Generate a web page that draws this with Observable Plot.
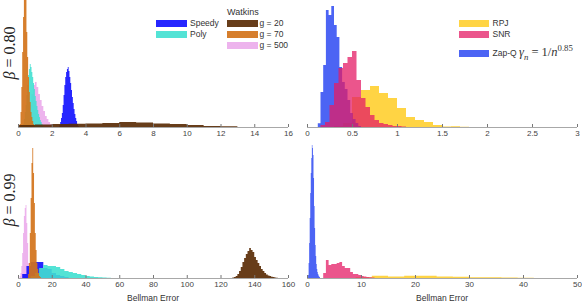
<!DOCTYPE html>
<html><head><meta charset="utf-8">
<script src="https://cdn.jsdelivr.net/npm/d3@7"></script>
<script src="https://cdn.jsdelivr.net/npm/@observablehq/plot@0.6"></script>
<style>
body{margin:0;background:#fff;}
#c{position:relative;width:582px;height:306px;overflow:hidden;font-family:"Liberation Sans",Arial,sans-serif;}
.p{position:absolute;}
.lab{position:absolute;font-size:8.5px;line-height:10px;color:#333;white-space:nowrap;}
.sw{position:absolute;width:31px;height:7px;}
.beta{position:absolute;width:70px;height:18px;line-height:18px;text-align:center;font-family:"Liberation Serif",serif;font-size:16px;transform:rotate(-90deg);white-space:nowrap;color:#222;}
.m{font-family:"Liberation Serif",serif;font-size:12.5px;}
.m sub,.m sup{font-size:0.7em;line-height:0;}
</style></head><body><div id="c"></div>
<script>
// ---------- data: histogram bins (first bin start, bin width, heights) ----------
// beta = 0.80, left panel
const tlSpeedy = {x0: 2.45, bin: 0.05, counts: [2,5,9,14,22,32,42,50,55,58,60,56,50,44,37,30,24,18,13,9,6,3,1]};
const tlPoly   = {x0: 0.30, bin: 0.05, counts: [3,8,15,22,32,42,52,58,63,60,55,50,44,38,31,26,21,17,13,10,7,5,3,1]};
const tlG20    = {x0: 0,    bin: 1,    counts: [2,2.5,3,3.2,3.5,4,5,4.5,3.5,3,2,1,0.8]};
const tlG70    = {x0: 0.10, bin: 0.05, counts: [3,15,40,75,110,140,160,130,95,70,50,35,25,15,10,6,3,1]};
const tlG500   = {x0: 0.50, bin: 0.1,  counts: [5,12,22,33,42,45,40,33,27,21,16,11,8,5,3,1]};
// beta = 0.80, right panel
const trRPJ = {x0: 0.3,  bin: 0.1,  counts: [1,4,30,37,41,34,29,19,10,7,5,2,0.5,0.8,0.3]};
const trSNR = {x0: 0.15, bin: 0.05, counts: [2,5,22,44,59,64,70,76,47,29,20,12,7,4,3,2,1,1,0.5]};
const trZap = {x0: 0.12, bin: 0.03, counts: [3.7,35,62,117,112,121,102,90,60,45,38,27,14,8,4,1]};
// beta = 0.99, left panel
const blSpeedy = {x0: 2.5, bin: 2.5, counts: [4,12,16,16,16,10,9,5,3,2,1]};
const blPoly   = {x0: 7.5, bin: 2.5, counts: [2,5,10,13,12,12,11,9,7,6,5,4,3,2,1.5,1,0.7,0.5,0.3]};
const blG20    = {x0: 127, bin: 1,   counts: [0.5,1,2,4,7,11,16,20,24,27,30,28,26,21,18,15,12,9,7,5,3.5,2.5,2,1.2,1,0.6,0.3]};
const blG70    = {x0: 6,   bin: 0.5, counts: [4,15,45,80,115,130,105,75,45,28,15,9,5,2,1]};
const blG500   = {x0: 1,   bin: 0.5, counts: [2,5,12,25,45,62,70,73,55,35,15,5,2]};
// beta = 0.99, right panel
const brRPJ = {x0: 9,   bin: 3,   counts: [0.8,2.3,1.5,2.3,2.3,1.5,1.2,0.8,0.7,0.6,0.2]};
const brSNR = {x0: 3,   bin: 0.5, counts: [5,18,13,14,14,15,16,12,10,10,6,4,4,3,2,1.5,1,0.8,0.5]};
const brZap = {x0: 0.2, bin: 0.1, counts: [3,15,35,60,85,105,120,133,130,123,100,72,50,33,22,14,9,6,4,2.5,1.5,1]};
// tick labels
const ticksTL = [0,2,4,6,8,10,12,14,16];
const ticksTR = [0,0.5,1,1.5,2,2.5,3];
const ticksBL = [0,20,40,60,80,100,120,140,160];
const ticksBR = [0,10,20,30,40,50];
const leftLegend = ["Speedy","Poly"];
const watkinsLegend = ["g = 20","g = 70","g = 500"];
const rightLegend = ["RPJ","SNR"];

// ---------- styles ----------
const C = {
  speedy: ["#0000ff", 0.85], poly: ["#40e0d0", 0.9], g20: ["#5a2d06", 0.92],
  g70: ["#d2731a", 0.92], g500: ["#e79ae7", 0.75],
  rpj: ["#ffc810", 0.78], snr: ["#e41c65", 0.75], zap: ["#1030f0", 0.75]
};

function rows(s) {
  const r = s.counts.map((v, i) => ({x: +(s.x0 + i * s.bin).toFixed(4), v}));
  r.push({x: +(s.x0 + s.counts.length * s.bin).toFixed(4), v: 0});
  return r;
}

const root = document.getElementById("c");

function panel(p) {
  const marks = p.series.map(([s, key]) => Plot.area(rows(s), {
    x1: "x", y1: 0, y2: "v", curve: "step-after", fill: C[key][0], fillOpacity: C[key][1]
  }));
  const svg = Plot.plot({
    width: p.w, height: p.h,
    marginLeft: p.mL, marginRight: p.mR, marginTop: 0, marginBottom: p.mB,
    style: {fontFamily: "Liberation Sans, Arial, sans-serif", fontSize: "8px", background: "transparent", overflow: "visible"},
    x: {domain: p.xd},
    y: {domain: [0, p.ymax], clamp: true, axis: null},
    marks: [
      ...marks,
      Plot.ruleY([0], {stroke: "#a8a8a8", strokeWidth: 1}),
      Plot.axisX(p.ticks, {tickSize: -3, tickPadding: 6, tickFormat: d => `${d}`, stroke: "#777", fill: "#444", fontSize: 8, label: null})
    ]
  });
  svg.classList.add("p");
  svg.style.left = p.left + "px";
  svg.style.top = p.top + "px";
  root.appendChild(svg);
}

panel({left: 0, top: 0, w: 300, h: 145, mL: 18, mR: 12, mB: 18, xd: [0,16], ymax: 127, ticks: ticksTL,
  series: [[tlG500,"g500"],[tlPoly,"poly"],[tlSpeedy,"speedy"],[tlG70,"g70"],[tlG20,"g20"]]});
panel({left: 290, top: 0, w: 292, h: 145, mL: 17, mR: 5, mB: 18, xd: [0,3], ymax: 127, ticks: ticksTR,
  series: [[trRPJ,"rpj"],[trZap,"zap"],[trSNR,"snr"]]});
panel({left: 0, top: 143, w: 300, h: 155, mL: 18, mR: 12, mB: 20, xd: [0,160], ymax: 135, ticks: ticksBL,
  series: [[blG500,"g500"],[blSpeedy,"speedy"],[blPoly,"poly"],[blG70,"g70"],[blG20,"g20"]]});
panel({left: 290, top: 143, w: 292, h: 155, mL: 17, mR: 5, mB: 20, xd: [0,50], ymax: 135, ticks: ticksBR,
  series: [[brRPJ,"rpj"],[brZap,"zap"],[brSNR,"snr"]]});

function add(html, cls, left, top, style) {
  const d = document.createElement("div");
  d.className = cls; d.innerHTML = html;
  d.style.left = left + "px"; d.style.top = top + "px";
  if (style) Object.assign(d.style, style);
  root.appendChild(d);
  return d;
}
function swatch(key, left, top, w) {
  add("", "sw", left, top, {background: C[key][0], opacity: C[key][1], width: (w || 31) + "px"});
}

// left legend
swatch("speedy", 156, 19.5); add(leftLegend[0], "lab", 190, 18);
swatch("poly", 156, 30.8);   add(leftLegend[1], "lab", 190, 29);
add("Watkins", "lab", 227, 7, {fontSize: "9px"});
swatch("g20", 226.5, 19.5);  add(watkinsLegend[0], "lab", 259.5, 18);
swatch("g70", 226.5, 30.8);  add(watkinsLegend[1], "lab", 259.5, 29);
swatch("g500", 226.5, 42);   add(watkinsLegend[2], "lab", 259.5, 40);
// right legend
swatch("rpj", 459, 19.5, 30); add(rightLegend[0], "lab", 492.5, 18);
swatch("snr", 459, 30.8, 30); add(rightLegend[1], "lab", 492.5, 29);
swatch("zap", 459, 49.5, 30);
add('Zap-Q <span class="m"><i>γ</i><sub><i>n</i></sub> = 1/<i>n</i><sup>0.85</sup></span>', "lab", 492.5, 47);

// axis titles
add("Bellman Error", "lab", 153, 293, {transform: "translateX(-50%)", fontSize: "8.5px"});
add("Bellman Error", "lab", 442, 293, {transform: "translateX(-50%)", fontSize: "8.5px"});

// row labels
add('<i>β</i> = 0.80', "beta", -25, 44);
add('<i>β</i> = 0.99', "beta", -25, 191);
</script>
</body></html>
